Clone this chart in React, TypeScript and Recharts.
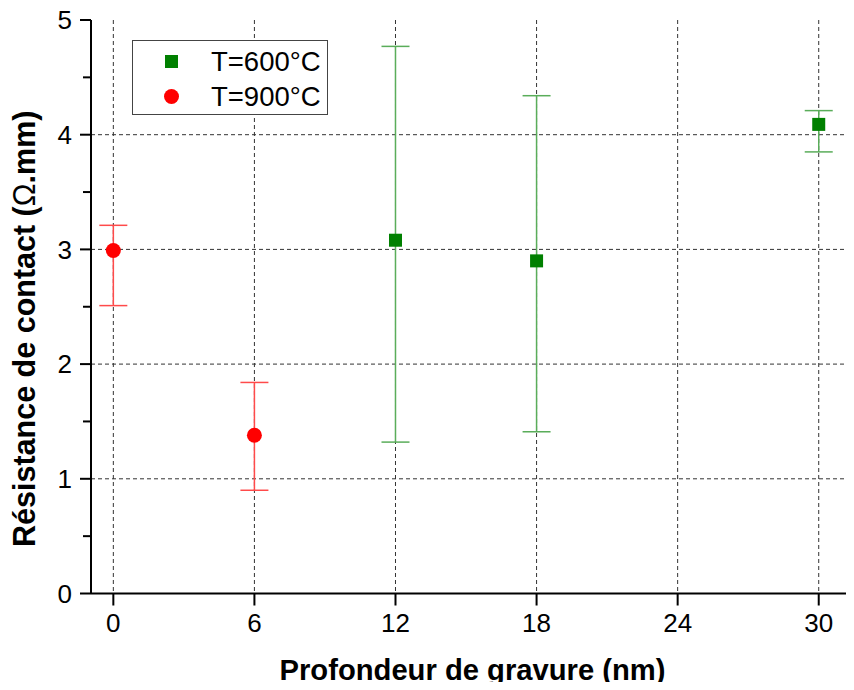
import React from 'react';
import { ScatterChart, Scatter, XAxis, YAxis, CartesianGrid, ErrorBar, Legend } from 'recharts';

const depth600 = [12, 18, 30];
const res600 = [3.08, 2.9, 4.09];
const upper600 = [4.77, 4.34, 4.21];
const lower600 = [1.32, 1.41, 3.85];

const depth900 = [0, 6];
const res900 = [2.99, 1.38];
const upper900 = [3.21, 1.84];
const lower900 = [2.51, 0.9];

const xTicks = [0, 6, 12, 18, 24, 30];
const yTicks = [0, 0.5, 1, 1.5, 2, 2.5, 3, 3.5, 4, 4.5, 5];
const gridY = [1, 2, 3, 4];
const seriesNames = ['T=600°C', 'T=900°C'];
const xTitle = 'Profondeur de gravure (nm)';
const yTitleA = 'Résistance de contact (';
const yTitleB = 'Ω';
const yTitleC = '.mm)';

const build = (xs: number[], ys: number[], up: number[], lo: number[]) =>
  xs.map((x, i) => ({ x, y: ys[i], err: [ys[i] - lo[i], up[i] - ys[i]] }));

const data600 = build(depth600, res600, upper600, lower600);
const data900 = build(depth900, res900, upper900, lower900);

const GREEN = '#008000';
const RED = '#ff0000';
const FONT = '"Liberation Sans", Arial, sans-serif';
const Y_TICK_SIZE = 11;
const Y_TICK_MARGIN = 8;

const Square = (p: any) => <rect x={p.cx - 6.5} y={p.cy - 6.5} width={13} height={13} fill={GREEN} />;
const Dot = (p: any) => <circle cx={p.cx} cy={p.cy} r={7.5} fill={RED} />;

const YTick = (p: any) => {
  const v = p.payload.value;
  const major = Math.abs(v - Math.round(v)) < 1e-6;
  const axisX = p.x + Y_TICK_SIZE + Y_TICK_MARGIN;
  const len = major ? Y_TICK_SIZE : 8;
  return (
    <g>
      <line x1={axisX - len} x2={axisX} y1={p.y} y2={p.y} stroke="#000" strokeWidth={2} />
      {major && (
        <text x={p.x} y={p.y} dy="0.355em" textAnchor="end" fontSize={26} fontFamily={FONT} fill="#000">
          {v}
        </text>
      )}
    </g>
  );
};

const LegendBox = () => (
  <div
    style={{
      width: 194,
      height: 73,
      border: '1.5px solid #444',
      background: '#fff',
      fontFamily: FONT,
      fontSize: 27.5,
      color: '#000',
      boxSizing: 'content-box',
    }}
  >
    {seriesNames.map((n, i) => (
      <div key={n} style={{ display: 'flex', alignItems: 'center', height: 35, marginTop: i === 0 ? 3 : 0 }}>
        <svg width={78} height={35}>
          {i === 0 ? (
            <rect x={32} y={11} width={13} height={13} fill={GREEN} />
          ) : (
            <circle cx={38.5} cy={17.5} r={7.5} fill={RED} />
          )}
        </svg>
        <span style={{ lineHeight: '35px' }}>{n}</span>
      </div>
    ))}
  </div>
);

const YTitle = (props: any) => {
  const vb = props.viewBox || { x: 0, y: 0, width: 0, height: 0 };
  const cx = vb.x + 35;
  const cy = vb.y + vb.height / 2 + 22;
  return (
    <text
      x={cx}
      y={cy}
      transform={`rotate(-90 ${cx} ${cy})`}
      textAnchor="middle"
      fontFamily={FONT}
      fontWeight="bold"
      fontSize={30.5}
      fill="#000"
    >
      <tspan>{yTitleA}</tspan>
      <tspan fontWeight="normal">{yTitleB}</tspan>
      <tspan>{yTitleC}</tspan>
    </text>
  );
};

export default function App() {
  return (
    <div style={{ margin: -8, width: 854, height: 690, background: '#fff' }}>
      <ScatterChart width={854} height={690} margin={{ top: 20, right: 0, bottom: 0, left: 0 }}>
        <CartesianGrid
          stroke="#333"
          strokeDasharray="4 3"
          horizontalValues={gridY}
          verticalValues={xTicks}
        />
        <XAxis
          type="number"
          dataKey="x"
          domain={[-0.95, 31.5]}
          allowDataOverflow
          ticks={xTicks}
          interval={0}
          height={96.5}
          tickSize={12}
          tickMargin={8}
          axisLine={{ stroke: '#000', strokeWidth: 2 }}
          tickLine={{ stroke: '#000', strokeWidth: 2 }}
          tick={{ fill: '#000', fontSize: 26, fontFamily: FONT }}
          label={{
            value: xTitle,
            position: 'insideBottom',
            offset: 10,
            fill: '#000',
            fontSize: 29.2,
            fontWeight: 'bold',
            fontFamily: FONT,
          }}
        />
        <XAxis
          xAxisId="top"
          orientation="top"
          type="number"
          domain={[0, 1]}
          height={0}
          tick={false}
          tickLine={false}
          axisLine={{ stroke: '#000', strokeWidth: 2 }}
        />
        <YAxis
          type="number"
          dataKey="y"
          domain={[0, 5]}
          ticks={yTicks}
          interval={0}
          width={91}
          tickSize={Y_TICK_SIZE}
          tickMargin={Y_TICK_MARGIN}
          axisLine={{ stroke: '#000', strokeWidth: 2 }}
          tickLine={false}
          tick={YTick}
          label={{ content: YTitle }}
        />
        <Legend
          layout="vertical"
          align="center"
          verticalAlign="middle"
          content={LegendBox}
          wrapperStyle={{ position: 'absolute', left: 132, top: 40, width: 'auto' }}
        />
        <Scatter name={seriesNames[0]} data={data600} fill={GREEN} shape={Square} isAnimationActive={false}>
          <ErrorBar dataKey="err" direction="y" width={14} stroke="#5aad5a" strokeWidth={1.5} isAnimationActive={false} />
        </Scatter>
        <Scatter name={seriesNames[1]} data={data900} fill={RED} shape={Dot} isAnimationActive={false}>
          <ErrorBar dataKey="err" direction="y" width={14} stroke="#ff4a4a" strokeWidth={1.5} isAnimationActive={false} />
        </Scatter>
      </ScatterChart>
    </div>
  );
}
